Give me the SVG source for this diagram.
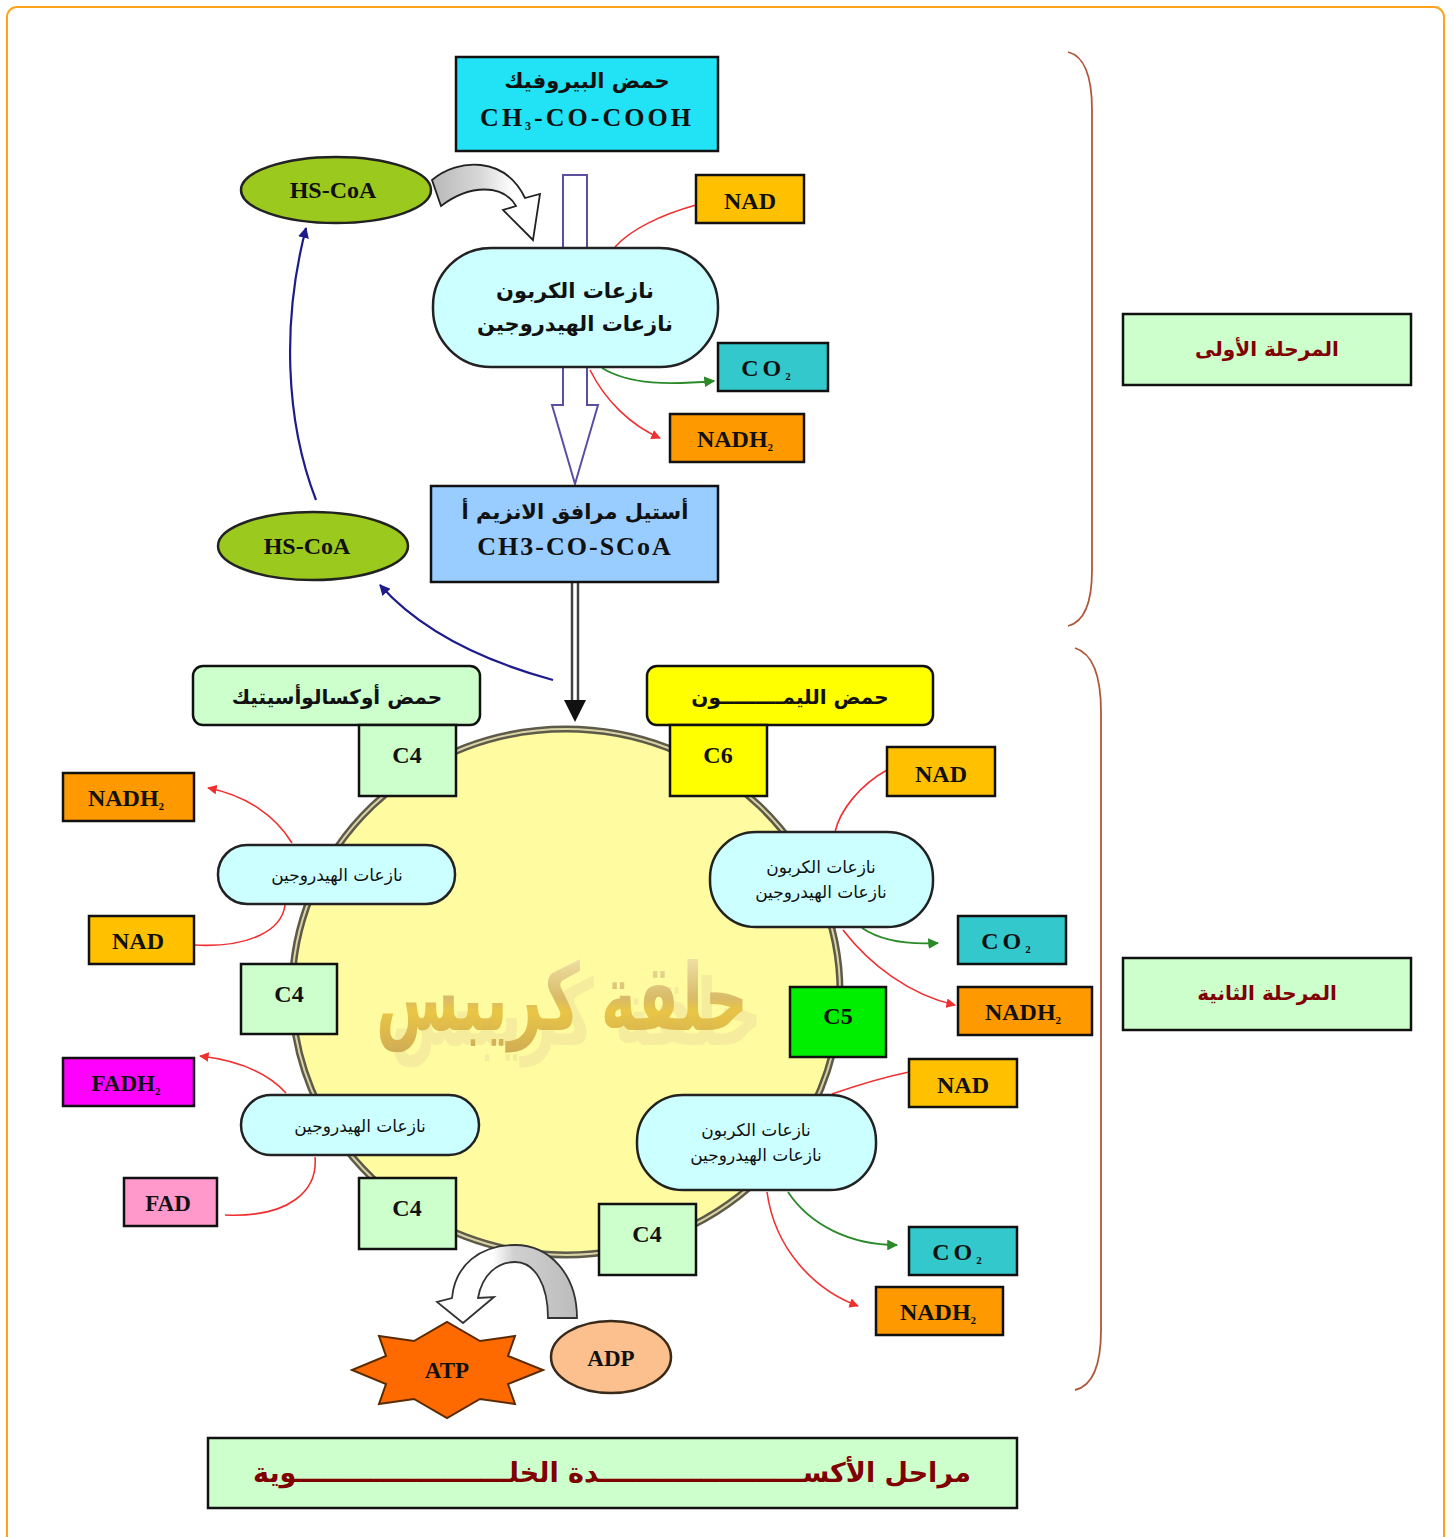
<svg xmlns="http://www.w3.org/2000/svg" width="1453" height="1537" viewBox="0 0 1453 1537">
  <defs>
    <style>
      .box { stroke: #111; stroke-width: 2.5; }
      .lat { font-family: "Liberation Serif", "DejaVu Serif", serif; font-weight: bold; fill: #111; text-anchor: middle; }
      .ar { font-family: "DejaVu Sans", "Noto Sans", sans-serif; fill: #111; text-anchor: middle; }
      .arb { font-family: "DejaVu Sans", "Noto Sans", sans-serif; font-weight: bold; fill: #111; text-anchor: middle; }
      .stage { font-family: "DejaVu Sans", "Noto Sans", sans-serif; font-weight: bold; fill: #800000; text-anchor: middle; }
      .red { fill: none; stroke: #f03030; stroke-width: 1.6; }
      .grn { fill: none; stroke: #2a8a2a; stroke-width: 1.8; }
      .blu { fill: none; stroke: #1c1c8a; stroke-width: 2.2; }
      .enz { fill: #ccffff; stroke: #222; stroke-width: 2.5; }
      .c4 { fill: #ccffcc; }
    </style>
    <marker id="mRed" viewBox="0 0 10 10" refX="9" refY="5" markerWidth="6" markerHeight="6" orient="auto">
      <path d="M0,0 L10,5 L0,10 z" fill="#f03030"/>
    </marker>
    <marker id="mGrn" viewBox="0 0 10 10" refX="9" refY="5" markerWidth="6" markerHeight="6" orient="auto">
      <path d="M0,0 L10,5 L0,10 z" fill="#2a8a2a"/>
    </marker>
    <marker id="mBlu" viewBox="0 0 10 10" refX="9" refY="5" markerWidth="5" markerHeight="5" orient="auto">
      <path d="M0,0 L10,5 L0,10 z" fill="#1c1c8a"/>
    </marker>
    <linearGradient id="gArrowTop" x1="0" y1="0" x2="1" y2="0">
      <stop offset="0" stop-color="#b8b8b8"/>
      <stop offset="0.45" stop-color="#d8d8d8"/>
      <stop offset="0.75" stop-color="#ffffff"/>
    </linearGradient>
    <linearGradient id="gArrowBot" x1="1" y1="0" x2="0" y2="0">
      <stop offset="0" stop-color="#bcbcbc"/>
      <stop offset="0.45" stop-color="#d0d0d0"/>
      <stop offset="0.6" stop-color="#ffffff"/>
    </linearGradient>
    <linearGradient id="gGold" x1="0" y1="0" x2="0" y2="1">
      <stop offset="0" stop-color="#f6ecc0"/>
      <stop offset="0.5" stop-color="#d2b060"/>
      <stop offset="0.62" stop-color="#e6bd35"/>
      <stop offset="1" stop-color="#c8a048"/>
    </linearGradient>
    <!-- soft offset echo under the ring title -->
    <filter id="echo" x="-10%" y="-20%" width="130%" height="160%">
      <feOffset in="SourceGraphic" dx="14" dy="10" result="off"/>
      <feColorMatrix in="off" type="matrix" values="0 0 0 0 0.72  0 0 0 0 0.6  0 0 0 0 0.3  0 0 0 0.35 0" result="tint"/>
      <feMerge>
        <feMergeNode in="tint"/>
        <feMergeNode in="SourceGraphic"/>
      </feMerge>
    </filter>
  </defs>

  <!-- page frame -->
  <rect x="7" y="7" width="1437" height="1545" rx="10" fill="#ffffff" stroke="#ffa31a" stroke-width="2"/>

  <!-- stage braces -->
  <path d="M1068,52 Q1092,58 1092,110 L1092,570 Q1092,620 1068,626" fill="none" stroke="#b0583a" stroke-width="1.8"/>
  <path d="M1075,648 Q1101,656 1101,712 L1101,1330 Q1101,1384 1075,1390" fill="none" stroke="#b0583a" stroke-width="1.8"/>

  <!-- Krebs ring -->
  <g id="krebs-ring">
    <ellipse cx="566" cy="992" rx="274" ry="263" fill="#fffba0" stroke="#5e5a48" stroke-width="7"/>
    <ellipse cx="566" cy="992" rx="274" ry="263" fill="none" stroke="#d9d3a8" stroke-width="2"/>
    <g transform="translate(562,1030) scale(1,1.55)" filter="url(#echo)">
      <text x="0" y="0" font-family="DejaVu Sans, sans-serif" font-weight="bold" font-size="60" text-anchor="middle" fill="url(#gGold)" opacity="0.85">حلقة كريبس</text>
    </g>
  </g>

  <!-- connectors -->
  <g id="connectors">
    <!-- hollow arrow from pyruvate down through the enzyme -->
    <rect x="563" y="175" width="24" height="73" fill="#ffffff" stroke="#5a4fa0" stroke-width="2"/>
    <path d="M563,367 L563,405 L552,405 L575,484 L598,405 L587,405 L587,367" fill="#ffffff" stroke="#5a4fa0" stroke-width="2"/>

    <!-- acetyl-CoA into the ring -->
    <line x1="572" y1="582" x2="572" y2="702" stroke="#444" stroke-width="2.5"/>
    <line x1="578" y1="582" x2="578" y2="702" stroke="#444" stroke-width="2.5"/>
    <path d="M564,700 L586,700 L575,722 z" fill="#111"/>

    <!-- HS-CoA recycling -->
    <path d="M432,180 C458,158 505,156 525,198 L540,194 L533,240 L503,210 L516,206 C503,184 470,184 441,206 Z" fill="url(#gArrowTop)" stroke="#222" stroke-width="1.8"/>
    <path class="blu" d="M316,500 C285,420 282,320 306,228" marker-end="url(#mBlu)"/>
    <path class="blu" d="M553,680 C480,660 420,630 380,585" marker-end="url(#mBlu)"/>

    <!-- first stage side products -->
    <path class="red" d="M696,205 C660,215 630,230 615,247"/>
    <path class="grn" d="M602,368 C630,385 670,385 714,381" marker-end="url(#mGrn)"/>
    <path class="red" d="M590,370 C605,400 630,425 660,438" marker-end="url(#mRed)"/>

    <!-- left upper dehydrogenase -->
    <path class="red" d="M292,843 C275,815 245,795 208,788" marker-end="url(#mRed)"/>
    <path class="red" d="M194,945 C250,948 282,930 285,905"/>

    <!-- right upper decarboxylase -->
    <path class="red" d="M887,770 C860,785 840,810 835,832"/>
    <path class="grn" d="M862,928 C880,940 905,945 938,943" marker-end="url(#mGrn)"/>
    <path class="red" d="M843,930 C870,965 910,995 955,1005" marker-end="url(#mRed)"/>

    <!-- right lower decarboxylase -->
    <path class="red" d="M909,1072 C880,1078 855,1086 832,1094"/>
    <path class="grn" d="M788,1192 C810,1225 850,1245 897,1245" marker-end="url(#mGrn)"/>
    <path class="red" d="M767,1192 C775,1250 815,1290 858,1306" marker-end="url(#mRed)"/>

    <!-- left lower dehydrogenase -->
    <path class="red" d="M286,1093 C265,1070 235,1060 200,1056" marker-end="url(#mRed)"/>
    <path class="red" d="M225,1215 C290,1218 318,1190 315,1157"/>

    <!-- ADP to ATP curved arrow -->
    <path d="M577,1318 C577,1275 550,1245 515,1245 C480,1245 455,1265 452,1298 L437,1302 L463,1323 L494,1297 L478,1298 C482,1275 497,1262 515,1262 C535,1262 548,1285 548,1318 Z" fill="url(#gArrowBot)" stroke="#333" stroke-width="1.8"/>
  </g>

  <!-- first stage nodes -->
  <g id="pyruvate">
    <rect class="box" x="456" y="57" width="262" height="94" fill="#22e3f5"/>
    <text class="arb" x="587" y="88" font-size="21">حمض البيروفيك</text>
    <text class="lat" x="587" y="126" font-size="26" letter-spacing="3">CH<tspan font-size="12" dy="4">3</tspan><tspan dy="-4">-CO-COOH</tspan></text>
  </g>

  <g id="hscoa-top">
    <ellipse cx="336" cy="190" rx="95" ry="33" fill="#9cc91e" stroke="#222" stroke-width="2.5"/>
    <text class="lat" x="333" y="198" font-size="24">HS-CoA</text>
  </g>

  <g id="nad-1">
    <rect class="box" x="696" y="175" width="108" height="48" fill="#ffc000"/>
    <text class="lat" x="750" y="209" font-size="24">NAD</text>
  </g>

  <g id="enzyme-1">
    <rect class="enz" x="433" y="248" width="285" height="119" rx="58"/>
    <text class="arb" x="575" y="298" font-size="21">نازعات الكربون</text>
    <text class="arb" x="575" y="331" font-size="21">نازعات الهيدروجين</text>
  </g>

  <g id="co2-1">
    <rect class="box" x="718" y="343" width="110" height="48" fill="#33c9cc"/>
    <text class="lat" x="768" y="376" font-size="24" letter-spacing="4">CO<tspan font-size="11" dy="4">2</tspan></text>
  </g>

  <g id="nadh2-1">
    <rect class="box" x="670" y="414" width="134" height="48" fill="#ff9900"/>
    <text class="lat" x="735" y="447" font-size="24">NADH<tspan font-size="11" dy="4">2</tspan></text>
  </g>

  <g id="acetyl-coa">
    <rect class="box" x="431" y="486" width="287" height="96" fill="#99ccff"/>
    <text class="arb" x="575" y="519" font-size="21">أستيل مرافق الانزيم أ</text>
    <text class="lat" x="575" y="555" font-size="26" letter-spacing="2">CH3-CO-SCoA</text>
  </g>

  <g id="hscoa-bottom">
    <ellipse cx="313" cy="546" rx="95" ry="34" fill="#9cc91e" stroke="#222" stroke-width="2.5"/>
    <text class="lat" x="307" y="554" font-size="24">HS-CoA</text>
  </g>

  <!-- second stage nodes -->
  <g id="oxaloacetic">
    <rect class="box" x="193" y="666" width="287" height="59" rx="10" fill="#ccffcc"/>
    <text class="arb" x="337" y="704" font-size="20">حمض أوكسالوأسيتيك</text>
  </g>

  <g id="citric">
    <rect class="box" x="647" y="666" width="286" height="59" rx="10" fill="#ffff00"/>
    <text class="arb" x="790" y="704" font-size="20">حمض الليمـــــــــون</text>
  </g>

  <g id="c4-top">
    <rect class="box c4" x="359" y="725" width="97" height="71"/>
    <text class="lat" x="407" y="763" font-size="24">C4</text>
  </g>

  <g id="c6">
    <rect class="box" x="670" y="725" width="97" height="71" fill="#ffff00"/>
    <text class="lat" x="718" y="763" font-size="24">C6</text>
  </g>

  <g id="nad-2">
    <rect class="box" x="887" y="747" width="108" height="49" fill="#ffc000"/>
    <text class="lat" x="941" y="782" font-size="24">NAD</text>
  </g>

  <g id="enzyme-2">
    <rect class="enz" x="710" y="832" width="223" height="95" rx="46"/>
    <text class="ar" x="821" y="873" font-size="17">نازعات الكربون</text>
    <text class="ar" x="821" y="898" font-size="17">نازعات الهيدروجين</text>
  </g>

  <g id="co2-2">
    <rect class="box" x="958" y="916" width="108" height="48" fill="#33c9cc"/>
    <text class="lat" x="1008" y="949" font-size="24" letter-spacing="4">CO<tspan font-size="11" dy="4">2</tspan></text>
  </g>

  <g id="nadh2-2">
    <rect class="box" x="958" y="987" width="134" height="48" fill="#ff9900"/>
    <text class="lat" x="1023" y="1020" font-size="24">NADH<tspan font-size="11" dy="4">2</tspan></text>
  </g>

  <g id="c5">
    <rect class="box" x="790" y="987" width="96" height="70" fill="#00ee00"/>
    <text class="lat" x="838" y="1024" font-size="24">C5</text>
  </g>

  <g id="nad-3">
    <rect class="box" x="909" y="1059" width="108" height="48" fill="#ffc000"/>
    <text class="lat" x="963" y="1093" font-size="24">NAD</text>
  </g>

  <g id="enzyme-3">
    <rect class="enz" x="637" y="1095" width="239" height="95" rx="46"/>
    <text class="ar" x="756" y="1136" font-size="17">نازعات الكربون</text>
    <text class="ar" x="756" y="1161" font-size="17">نازعات الهيدروجين</text>
  </g>

  <g id="co2-3">
    <rect class="box" x="909" y="1227" width="108" height="48" fill="#33c9cc"/>
    <text class="lat" x="959" y="1260" font-size="24" letter-spacing="4">CO<tspan font-size="11" dy="4">2</tspan></text>
  </g>

  <g id="nadh2-3">
    <rect class="box" x="876" y="1287" width="127" height="48" fill="#ff9900"/>
    <text class="lat" x="938" y="1320" font-size="24">NADH<tspan font-size="11" dy="4">2</tspan></text>
  </g>

  <g id="c4-bottom-right">
    <rect class="box c4" x="599" y="1204" width="97" height="71"/>
    <text class="lat" x="647" y="1242" font-size="24">C4</text>
  </g>

  <g id="c4-bottom-left">
    <rect class="box c4" x="359" y="1178" width="97" height="71"/>
    <text class="lat" x="407" y="1216" font-size="24">C4</text>
  </g>

  <g id="enzyme-4">
    <rect class="enz" x="241" y="1095" width="238" height="60" rx="30"/>
    <text class="ar" x="360" y="1132" font-size="17">نازعات الهيدروجين</text>
  </g>

  <g id="fadh2">
    <rect class="box" x="63" y="1058" width="131" height="48" fill="#ff00ff"/>
    <text class="lat" x="126" y="1091" font-size="23">FADH<tspan font-size="11" dy="4">2</tspan></text>
  </g>

  <g id="fad">
    <rect class="box" x="124" y="1178" width="93" height="48" fill="#ff99cc"/>
    <text class="lat" x="168" y="1211" font-size="23">FAD</text>
  </g>

  <g id="c4-left">
    <rect class="box c4" x="241" y="964" width="96" height="70"/>
    <text class="lat" x="289" y="1002" font-size="24">C4</text>
  </g>

  <g id="nad-4">
    <rect class="box" x="89" y="916" width="105" height="48" fill="#ffc000"/>
    <text class="lat" x="138" y="949" font-size="24">NAD</text>
  </g>

  <g id="enzyme-5">
    <rect class="enz" x="218" y="845" width="237" height="59" rx="29"/>
    <text class="ar" x="337" y="881" font-size="17">نازعات الهيدروجين</text>
  </g>

  <g id="nadh2-4">
    <rect class="box" x="63" y="773" width="131" height="48" fill="#ff9900"/>
    <text class="lat" x="126" y="806" font-size="24">NADH<tspan font-size="11" dy="4">2</tspan></text>
  </g>

  <g id="atp">
    <polygon points="543,1370 508,1384 515,1404 480,1399 447,1418 414,1399 379,1404 386,1384 352,1370 386,1356 379,1336 414,1341 447,1322 480,1341 515,1336 508,1356" fill="#ff6a00" stroke="#5a2a00" stroke-width="2"/>
    <text class="lat" x="447" y="1378" font-size="23">ATP</text>
  </g>

  <g id="adp">
    <ellipse cx="611" cy="1357" rx="60" ry="36" fill="#fbc08e" stroke="#3a2a1a" stroke-width="2.5"/>
    <text class="lat" x="611" y="1366" font-size="23">ADP</text>
  </g>

  <!-- stage labels -->
  <g id="stage-1">
    <rect class="box" x="1123" y="314" width="288" height="71" fill="#ccffcc"/>
    <text class="stage" x="1267" y="356" font-size="20">المرحلة الأولى</text>
  </g>

  <g id="stage-2">
    <rect class="box" x="1123" y="958" width="288" height="72" fill="#ccffcc"/>
    <text class="stage" x="1267" y="1000" font-size="20">المرحلة الثانية</text>
  </g>

  <g id="title">
    <rect class="box" x="208" y="1438" width="809" height="70" fill="#ccffcc"/>
    <text class="stage" x="612" y="1482" font-size="27">مراحل الأكســــــــــــــــــــــدة الخلـــــــــــــــــــــــوية</text>
  </g>
</svg>
